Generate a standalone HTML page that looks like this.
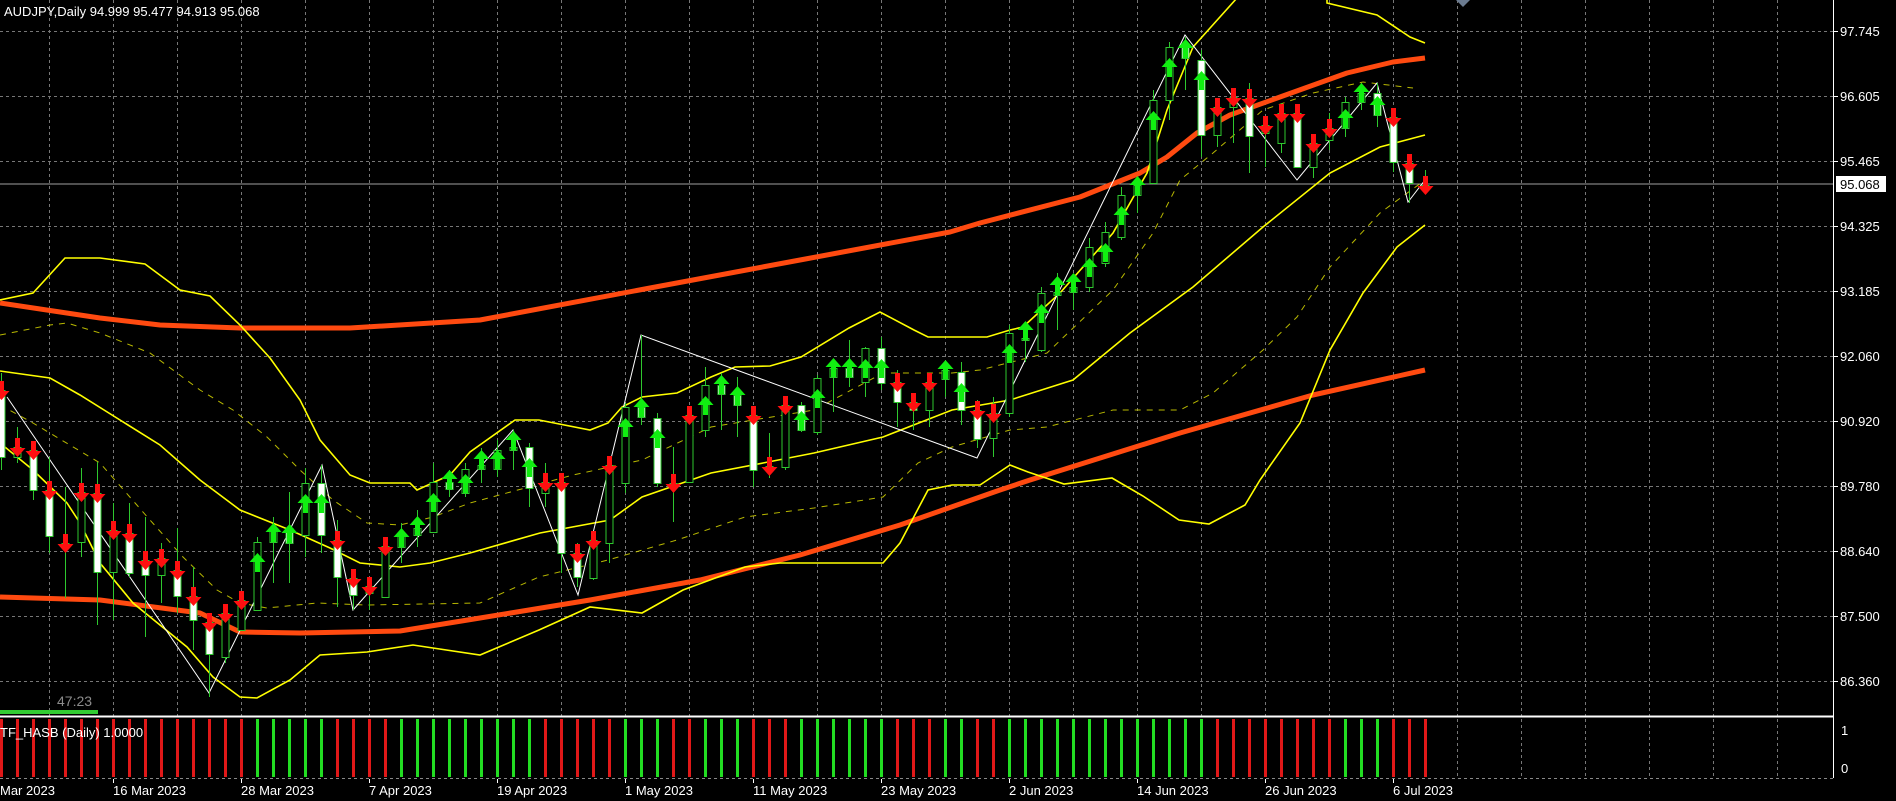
<!DOCTYPE html>
<html><head><meta charset="utf-8">
<style>
html,body{margin:0;padding:0;background:#000;}
svg{display:block;}
text{font-family:"Liberation Sans",Tahoma,sans-serif;}
</style></head>
<body>
<svg id="c" width="1896" height="801" xmlns="http://www.w3.org/2000/svg">
<rect width="1896" height="801" fill="#000"/>
<g id="grid"></g>
<line x1="0" y1="184" x2="1833" y2="184" stroke="#a0a0a0" stroke-width="1"/>
<g id="lines"></g>
<g id="candles"></g>
<g id="arrows"></g>
<g id="ind"></g>
<line x1="0" y1="716.5" x2="1834" y2="716.5" stroke="#ffffff" stroke-width="2"/>
<line x1="1833.5" y1="0" x2="1833.5" y2="778" stroke="#ffffff" stroke-width="1"/>
<line x1="0" y1="778.5" x2="1833" y2="778.5" stroke="#888" stroke-dasharray="3 3"/>
<text x="4" y="16" fill="#fff" font-size="13">AUDJPY,Daily  94.999 95.477 94.913 95.068</text>
<text x="57" y="706" fill="#8c8c8c" font-size="14">47:23</text>
<rect x="0" y="710" width="98" height="4" fill="#33cc33"/>
<text x="0" y="737" fill="#fff" font-size="13">TF_HASB (Daily) 1.0000</text>
<polygon points="1456,0 1470,0 1463,7" fill="#6b7b90"/>
<g id="axis"></g>
</svg>
<script>
var NS="http://www.w3.org/2000/svg";
function el(p,t,a,txt){var e=document.createElementNS(NS,t);for(var k in a)e.setAttribute(k,a[k]);if(txt!=null)e.textContent=txt;document.getElementById(p).appendChild(e);return e;}
for(var x=49;x<1833;x+=64) el('grid','line',{x1:x+.5,y1:0,x2:x+.5,y2:716,stroke:'#777','stroke-dasharray':'3 3'});
for(var x=49;x<1833;x+=64) el('grid','line',{x1:x+.5,y1:719,x2:x+.5,y2:778,stroke:'#777','stroke-dasharray':'3 3'});
var prices=["97.745","96.605","95.465","94.325","93.185","92.060","90.920","89.780","88.640","87.500","86.360"];
for(var i=0;i<prices.length;i++){var y=31+65*i;
 el('grid','line',{x1:0,y1:y+.5,x2:1833,y2:y+.5,stroke:'#777','stroke-dasharray':'3 3'});
 el('axis','line',{x1:1834,y1:y+.5,x2:1838,y2:y+.5,stroke:'#fff'});
 el('axis','text',{x:1840,y:y+5,fill:'#fff','font-size':'13'},prices[i]);}
el('axis','rect',{x:1836,y:176,width:50,height:16,fill:'#fff'});
el('axis','text',{x:1840,y:189,fill:'#000','font-size':'13'},"95.068");
el('axis','text',{x:1841,y:735,fill:'#fff','font-size':'13'},"1");
el('axis','text',{x:1841,y:773,fill:'#fff','font-size':'13'},"0");
var dates=[[-15,"Mar 2023",1],[113,"16 Mar 2023"],[241,"28 Mar 2023"],[369,"7 Apr 2023"],[497,"19 Apr 2023"],[625,"1 May 2023"],[753,"11 May 2023"],[881,"23 May 2023"],[1009,"2 Jun 2023"],[1137,"14 Jun 2023"],[1265,"26 Jun 2023"],[1393,"6 Jul 2023"]];
dates.forEach(function(d){ if(d[2]) el('axis','text',{x:0,y:795,fill:'#fff','font-size':'13'},d[1]); else el('axis','text',{x:d[0],y:795,fill:'#fff','font-size':'13'},d[1]); el('axis','line',{x1:d[0]+.5,y1:779,x2:d[0]+.5,y2:783,stroke:'#fff'});});
function pl(pts,attrs){attrs.points=pts.map(function(p){return p.join(',')}).join(' ');attrs.fill='none';el('lines','polyline',attrs);}
pl([[0,303],[100,318],[160,325],[240,328],[350,328],[480,320],[650,288],[800,260],[950,232],[980,223],[1080,197],[1140,173],[1167,157],[1197,133],[1230,115],[1280,97],[1347,73],[1393,62],[1425,58]],{stroke:'#ff4a10','stroke-width':5,'stroke-linejoin':'round'});
pl([[0,597],[100,600],[200,613],[240,632],[300,633],[400,631],[480,618],[590,600],[700,580],[800,555],[900,525],[1000,490],[1030,480],[1180,433],[1313,395],[1425,370]],{stroke:'#ff4a10','stroke-width':5,'stroke-linejoin':'round'});
pl([[0,300],[33,293],[65,258],[100,258],[145,264],[180,290],[210,296],[240,325],[270,358],[300,400],[320,440],[350,475],[370,483],[410,483],[417,490],[450,475],[470,452],[515,420],[539,420],[590,430],[608,423],[622,407],[642,397],[677,393],[711,377],[735,367],[770,366],[801,357],[849,328],[880,312],[914,330],[928,337],[987,337],[1010,330],[1023,327],[1060,293],[1113,233],[1147,173],[1167,110],[1193,47],[1237,-2],[1327,-2],[1327,3],[1377,15],[1410,37],[1425,43]],{stroke:'#ffff00','stroke-width':1.6});
pl([[0,371],[50,378],[80,395],[120,420],[160,445],[200,480],[240,510],[290,530],[330,548],[360,563],[400,567],[430,563],[470,553],[540,533],[610,520],[642,497],[711,473],[763,463],[814,453],[883,437],[952,410],[1010,400],[1073,380],[1130,333],[1193,287],[1263,227],[1330,173],[1380,147],[1425,135]],{stroke:'#ffff00','stroke-width':1.6});
pl([[0,443],[33,470],[67,503],[80,523],[100,563],[133,603],[187,647],[213,677],[240,697],[257,698],[290,680],[320,655],[367,652],[413,645],[480,655],[539,630],[590,607],[642,613],[683,590],[745,567],[780,563],[883,563],[900,543],[928,490],[952,485],[980,485],[1010,465],[1028,472],[1064,484],[1112,478],[1143,496],[1179,520],[1209,524],[1245,505],[1260,480],[1300,423],[1330,350],[1363,293],[1397,247],[1425,225]],{stroke:'#ffff00','stroke-width':1.6});
pl([[0,335],[50,325],[67,323],[100,333],[150,353],[200,390],[233,410],[267,437],[300,470],[333,500],[367,523],[400,525],[433,517],[470,503],[573,475],[642,460],[711,427],[814,410],[883,373],[952,373],[980,370],[1047,353],[1113,290],[1153,233],[1180,180],[1213,153],[1263,110],[1313,93],[1363,82],[1413,88]],{stroke:'#d8d800','stroke-width':1,'stroke-dasharray':'6 6','opacity':'0.85'});
pl([[0,405],[33,423],[100,463],[150,520],[183,557],[217,590],[240,603],[267,608],[317,603],[367,605],[480,603],[539,577],[608,560],[677,540],[745,517],[814,508],[883,497],[918,463],[952,447],[1010,430],[1047,427],[1113,410],[1180,410],[1213,393],[1263,350],[1297,317],[1330,267],[1380,213],[1425,180]],{stroke:'#d8d800','stroke-width':1,'stroke-dasharray':'6 6','opacity':'0.85'});
pl([[7,397],[209,693],[322,465],[353,610],[513,430],[578,595],[641,335],[977,458],[1185,35],[1297,180],[1377,83],[1408,202],[1425,180]],{stroke:'#fff','stroke-width':1});
var C=[[390,457,373,470,0],[447,457,427,463,1],[450,490,443,500,0],[490,536,457,553,0],[543,545,487,598,1],[492,542,468,557,1],[493,572,462,625,0],[530,572,503,620,1],[533,573,503,577,0],[560,575,517,637,0],[558,575,543,603,1],[570,596,528,613,0],[596,620,567,650,0],[622,654,613,697,0],[613,657,610,663,1],[600,630,593,630,1],[542,610,537,610,1],[528,542,517,583,1],[528,543,492,583,0],[483,535,468,557,1],[483,535,465,553,0],[540,577,520,607,0],[578,595,577,610,0],[586,593,583,610,1],[546,597,543,597,1],[535,547,523,563,1],[528,535,510,547,1],[482,532,463,533,1],[482,489,470,497,0],[469,493,463,497,1],[465,469,448,483,1],[450,469,440,477,1],[447,450,430,470,1],[447,488,443,507,0],[482,493,463,507,1],[482,553,473,573,0],[553,577,543,587,0],[540,578,532,580,1],[465,543,463,563,1],[407,483,403,493,1],[407,417,335,425,0],[418,483,413,487,0],[483,484,447,522,1],[415,482,410,483,1],[385,430,367,437,1],[385,394,373,430,0],[395,405,377,437,0],[415,470,410,487,0],[466,470,433,478,1],[405,467,398,470,1],[405,430,402,432,0],[378,432,375,435,1],[368,377,365,412,1],[368,377,340,387,0],[348,382,347,397,1],[348,383,337,390,0],[382,402,370,427,0],[402,410,393,430,0],[382,410,377,427,1],[370,379,362,397,1],[372,410,362,425,0],[410,439,400,448,0],[413,438,397,457,1],[333,413,325,417,1],[338,340,322,362,1],[293,350,287,352,1],[292,295,273,330,1],[287,292,283,310,1],[247,287,238,292,1],[232,263,222,267,1],[195,237,187,240,1],[185,195,180,213,1],[100,183,90,183,1],[47,100,42,120,1],[46,58,37,90,0],[60,135,50,157,0],[107,135,100,147,1],[97,107,90,143,1],[98,136,83,173,0],[125,133,117,167,1],[113,143,103,153,1],[113,167,110,167,0],[143,167,140,178,1],[128,140,113,150,1],[102,128,97,137,1],[93,102,83,110,1],[93,115,83,127,0],[117,162,113,172,0],[163,183,160,203,0],[185,188,170,193,1]];
var G=[[16,20],[25,33],[39,41],[44,46],[50,55],[59,60],[63,75],[84,86]];
function isG(k){for(var i=0;i<G.length;i++)if(k>=G[i][0]&&k<=G[i][1])return true;return false;}
C.forEach(function(c,k){
 var x=1+16*k;
 el('candles','line',{x1:x+.5,y1:c[2],x2:x+.5,y2:c[3],stroke:'#2ec82e','stroke-width':1});
 var h=Math.max(c[1]-c[0],1);
 el('candles','rect',{x:x-3,y:c[0]+.5,width:7,height:h,fill:c[4]?'#000':'#fff',stroke:'#2ec82e','stroke-width':1});
 var g=isG(k);
 el('ind','rect',{x:x-1,y:719,width:3,height:58,fill:g?'#22dd22':'#e01818'});
 var cx=x+.5;
 if(g){var b=Math.min(c[1],c[0]+30);var t=b-19;
  el('arrows','path',{d:'M'+(cx-2.5)+','+b+' L'+(cx-2.5)+','+(t+9)+' L'+(cx-8)+','+(t+9)+' L'+cx+','+t+' L'+(cx+8)+','+(t+9)+' L'+(cx+2.5)+','+(t+9)+' L'+(cx+2.5)+','+b+' Z',fill:'#11ee11'});
 } else {var t=c[0]-9;var b=t+19;
  el('arrows','path',{d:'M'+(cx-2.5)+','+t+' L'+(cx-2.5)+','+(b-9)+' L'+(cx-8)+','+(b-9)+' L'+cx+','+b+' L'+(cx+8)+','+(b-9)+' L'+(cx+2.5)+','+(b-9)+' L'+(cx+2.5)+','+t+' Z',fill:'#ff1010'});
 }
});
</script>
</body></html>
